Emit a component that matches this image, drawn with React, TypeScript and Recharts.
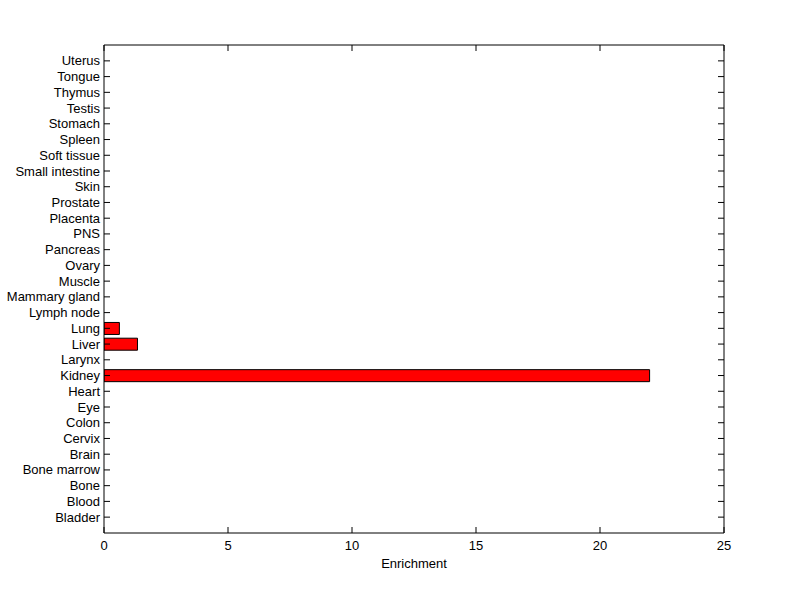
import React from "react";
import {Bar, BarChart, XAxis, YAxis} from "recharts";

const TISSUES = [
    'Bladder', 'Blood', 'Bone', 'Bone marrow', 'Brain', 'Cervix', 'Colon', 'Eye', 'Heart', 'Kidney',
    'Larynx', 'Liver', 'Lung', 'Lymph node', 'Mammary gland', 'Muscle', 'Ovary', 'Pancreas', 'PNS', 'Placenta',
    'Prostate', 'Skin', 'Small intestine', 'Soft tissue', 'Spleen', 'Stomach', 'Testis', 'Thymus', 'Tongue', 'Uterus',
];
const ENRICHMENT = [
    0, 0, 0, 0, 0, 0, 0, 0, 0, 22,
    0, 1.35, 0.62, 0, 0, 0, 0, 0, 0, 0,
    0, 0, 0, 0, 0, 0, 0, 0, 0, 0,
];
const X_TICKS = [0, 5, 10, 15, 20, 25];

const FONT = '"Liberation Sans", Arial, sans-serif';
const TS = 6; // tick size; recharts hands us the outer end of the tick, we draw it inward instead

const data = TISSUES.map((name, i) => ({name, value: ENRICHMENT[i]}));

// @ts-ignore
const LeftTick = ({x, y, payload}) => (
    <g>
        <line x1={x + TS} y1={y} x2={x + 2 * TS} y2={y} stroke="#000"/>
        <text x={x + 2} y={y} dy="0.35em" textAnchor="end" fontSize={13} fontFamily={FONT} fill="#000">
            {payload.value}
        </text>
    </g>
);

// @ts-ignore
const RightTick = ({x, y}) => <line x1={x - TS} y1={y} x2={x - 2 * TS} y2={y} stroke="#000"/>;

// @ts-ignore
const BottomTick = ({x, y, payload}) => (
    <g>
        <line x1={x} y1={y - TS} x2={x} y2={y - 2 * TS} stroke="#000"/>
        <text x={x} y={y + 11} textAnchor="middle" fontSize={13} fontFamily={FONT} fill="#000">
            {payload.value}
        </text>
    </g>
);

// @ts-ignore
const TopTick = ({x, y}) => <line x1={x} y1={y + TS} x2={x} y2={y + 2 * TS} stroke="#000"/>;

export default function App() {
    return (
        <div style={{position: 'absolute', left: 0, top: 0, background: '#fff'}}>
            <BarChart width={800} height={599} data={data} layout="vertical"
                      margin={{top: 44, right: 75, bottom: 31, left: 4}}>
                <XAxis xAxisId="bottom" type="number" domain={[0, 25]} ticks={X_TICKS} allowDataOverflow
                       orientation="bottom" height={35} tickSize={TS} tickMargin={0}
                       axisLine={{stroke: '#000'}} tickLine={false} tick={BottomTick}
                       label={{value: 'Enrichment', position: 'insideBottom', offset: 0,
                           fontSize: 13, fontFamily: FONT, fill: '#000'}}/>
                <XAxis xAxisId="top" type="number" domain={[0, 25]} ticks={X_TICKS} allowDataOverflow
                       orientation="top" height={1} tickSize={TS} tickMargin={0}
                       axisLine={{stroke: '#000'}} tickLine={false} tick={TopTick}/>
                <YAxis yAxisId="left" type="category" dataKey="name" reversed orientation="left"
                       width={100} interval={0} tickSize={TS} tickMargin={0}
                       padding={{top: 8, bottom: 8}}
                       axisLine={{stroke: '#000'}} tickLine={false} tick={LeftTick}/>
                <YAxis yAxisId="right" type="category" dataKey="name" reversed orientation="right"
                       width={1} interval={0} tickSize={TS} tickMargin={0}
                       padding={{top: 8, bottom: 8}}
                       axisLine={{stroke: '#000'}} tickLine={false} tick={RightTick}/>
                <Bar xAxisId="bottom" yAxisId="left" dataKey="value" fill="#ff0000" stroke="#000"
                     strokeWidth={1} barSize={12} isAnimationActive={false}/>
            </BarChart>
        </div>
    );
}
